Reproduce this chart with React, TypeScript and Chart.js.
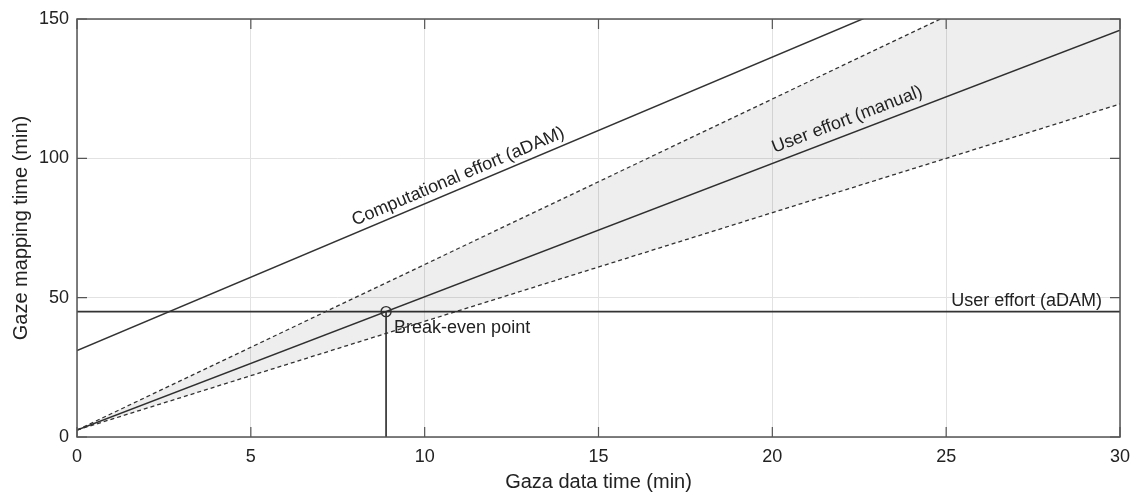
import React, { useEffect, useRef } from "react";
import { Chart, registerables } from "chart.js";

Chart.register(...registerables);

// ---- data ----
const xEnds = [0, 30];
const upperBound = [2.5, 180.7]; // dashed upper bound of manual effort
const manualEffort = [2.5, 146]; // User effort (manual)
const lowerBound = [2.5, 119.5]; // dashed lower bound of manual effort
const computationalEffort = [31, 189]; // Computational effort (aDAM)
const adamUserEffort = [45, 45]; // User effort (aDAM)
const breakEvenX = [8.89];
const breakEvenY = [45];
const xTickValues = [0, 5, 10, 15, 20, 25, 30];
const yTickValues = [0, 50, 100, 150];

const xTitle = "Gaza data time (min)";
const yTitle = "Gaze mapping time (min)";

const FONT = "'Liberation Sans', Arial, Helvetica, sans-serif";
const LINE = "#333333";
const TEXT = "#222222";

const pts = (ys: number[]) => xEnds.map((x, i) => ({ x, y: ys[i] }));

const decorPlugin = {
  id: "decor",
  afterDatasetsDraw(chart: any) {
    const { ctx, chartArea: a, scales } = chart;
    const xs = scales.x;
    const ys = scales.y;
    ctx.save();
    // box
    ctx.strokeStyle = "#555555";
    ctx.lineWidth = 1.5;
    ctx.strokeRect(a.left, a.top, a.right - a.left, a.bottom - a.top);
    // inward ticks on all four sides
    const tl = 10;
    ctx.lineWidth = 1.2;
    ctx.beginPath();
    xTickValues.forEach((v) => {
      const px = xs.getPixelForValue(v);
      ctx.moveTo(px, a.bottom);
      ctx.lineTo(px, a.bottom - tl);
      ctx.moveTo(px, a.top);
      ctx.lineTo(px, a.top + tl);
    });
    yTickValues.forEach((v) => {
      const py = ys.getPixelForValue(v);
      ctx.moveTo(a.left, py);
      ctx.lineTo(a.left + tl, py);
      ctx.moveTo(a.right, py);
      ctx.lineTo(a.right - tl, py);
    });
    ctx.stroke();

    // rotated line labels
    ctx.fillStyle = TEXT;
    ctx.font = `18px ${FONT}`;
    const rotLabels = [
      { text: "Computational effort (aDAM)", series: computationalEffort, xc: 11.1, off: 7 },
      { text: "User effort (manual)", series: manualEffort, xc: 22.3, off: 9 },
    ];
    rotLabels.forEach((l) => {
      const x0 = xs.getPixelForValue(xEnds[0]);
      const y0 = ys.getPixelForValue(l.series[0]);
      const x1 = xs.getPixelForValue(xEnds[1]);
      const y1 = ys.getPixelForValue(l.series[1]);
      const ang = Math.atan2(y1 - y0, x1 - x0);
      const px = xs.getPixelForValue(l.xc);
      const py = y0 + ((px - x0) * (y1 - y0)) / (x1 - x0);
      ctx.save();
      ctx.translate(px, py);
      ctx.rotate(ang);
      ctx.textAlign = "center";
      ctx.textBaseline = "alphabetic";
      ctx.fillText(l.text, 0, -l.off);
      ctx.restore();
    });

    // horizontal label
    ctx.textAlign = "right";
    ctx.textBaseline = "alphabetic";
    ctx.fillText("User effort (aDAM)", a.right - 18, ys.getPixelForValue(adamUserEffort[1]) - 6);

    // break-even label
    ctx.textAlign = "left";
    ctx.fillText(
      "Break-even point",
      xs.getPixelForValue(breakEvenX[0]) + 8,
      ys.getPixelForValue(breakEvenY[0]) + 21
    );
    ctx.restore();
  },
};

export default function App() {
  const ref = useRef<HTMLCanvasElement | null>(null);

  useEffect(() => {
    document.body.style.margin = "0";
    if (!ref.current) return;
    const lineDs = (ys: number[], extra: any = {}) => ({
      type: "line",
      data: pts(ys),
      borderColor: LINE,
      borderWidth: 1.5,
      pointRadius: 0,
      fill: false,
      tension: 0,
      ...extra,
    });
    const chart = new Chart(ref.current, {
      type: "scatter",
      data: {
        datasets: [
          lineDs(upperBound, {
            borderDash: [4, 3],
            borderWidth: 1.3,
            fill: { target: 1 },
            backgroundColor: "rgba(0,0,0,0.065)",
          }),
          lineDs(lowerBound, { borderDash: [4, 3], borderWidth: 1.3 }),
          lineDs(manualEffort),
          lineDs(computationalEffort),
          lineDs(adamUserEffort, { borderWidth: 1.7 }),
          {
            type: "line",
            data: [
              { x: breakEvenX[0], y: 0 },
              { x: breakEvenX[0], y: breakEvenY[0] },
            ],
            borderColor: LINE,
            borderWidth: 1.7,
            pointRadius: 0,
            fill: false,
          },
          {
            type: "scatter",
            data: [{ x: breakEvenX[0], y: breakEvenY[0] }],
            pointRadius: 5,
            pointBorderWidth: 1.4,
            pointBorderColor: LINE,
            pointBackgroundColor: "rgba(0,0,0,0)",
            showLine: false,
          },
        ] as any,
      },
      options: {
        animation: false,
        responsive: true,
        maintainAspectRatio: false,
        layout: { padding: { top: 19, right: 14, left: 0, bottom: 0 } },
        plugins: {
          legend: { display: false },
          tooltip: { enabled: false },
        },
        scales: {
          x: {
            type: "linear",
            min: 0,
            max: 30,
            afterFit: (s: any) => {
              s.height = 57;
              s.paddingLeft = 0;
              s.paddingRight = 0;
            },
            afterBuildTicks: (s: any) => {
              s.ticks = xTickValues.map((v) => ({ value: v }));
            },
            ticks: {
              color: TEXT,
              font: { family: FONT, size: 18 },
              padding: 9,
              maxRotation: 0,
            },
            grid: { color: "#e2e2e2", lineWidth: 1, drawTicks: false },
            border: { display: false },
            title: {
              display: true,
              text: xTitle,
              color: TEXT,
              font: { family: FONT, size: 20 },
              padding: { top: 0, bottom: 0 },
            },
          },
          y: {
            type: "linear",
            min: 0,
            max: 150,
            afterFit: (s: any) => {
              s.width = 77;
              s.paddingTop = 0;
              s.paddingBottom = 0;
            },
            afterBuildTicks: (s: any) => {
              s.ticks = yTickValues.map((v) => ({ value: v }));
            },
            ticks: {
              color: TEXT,
              font: { family: FONT, size: 18 },
              padding: 8,
            },
            grid: { color: "#e2e2e2", lineWidth: 1, drawTicks: false },
            border: { display: false },
            title: {
              display: true,
              text: yTitle,
              color: TEXT,
              font: { family: FONT, size: 20 },
              padding: { top: 9, bottom: 0 },
            },
          },
        },
      },
      plugins: [decorPlugin],
    } as any);
    return () => chart.destroy();
  }, []);

  return (
    <div style={{ position: "relative", width: 1134, height: 494 }}>
      <canvas ref={ref} />
    </div>
  );
}
